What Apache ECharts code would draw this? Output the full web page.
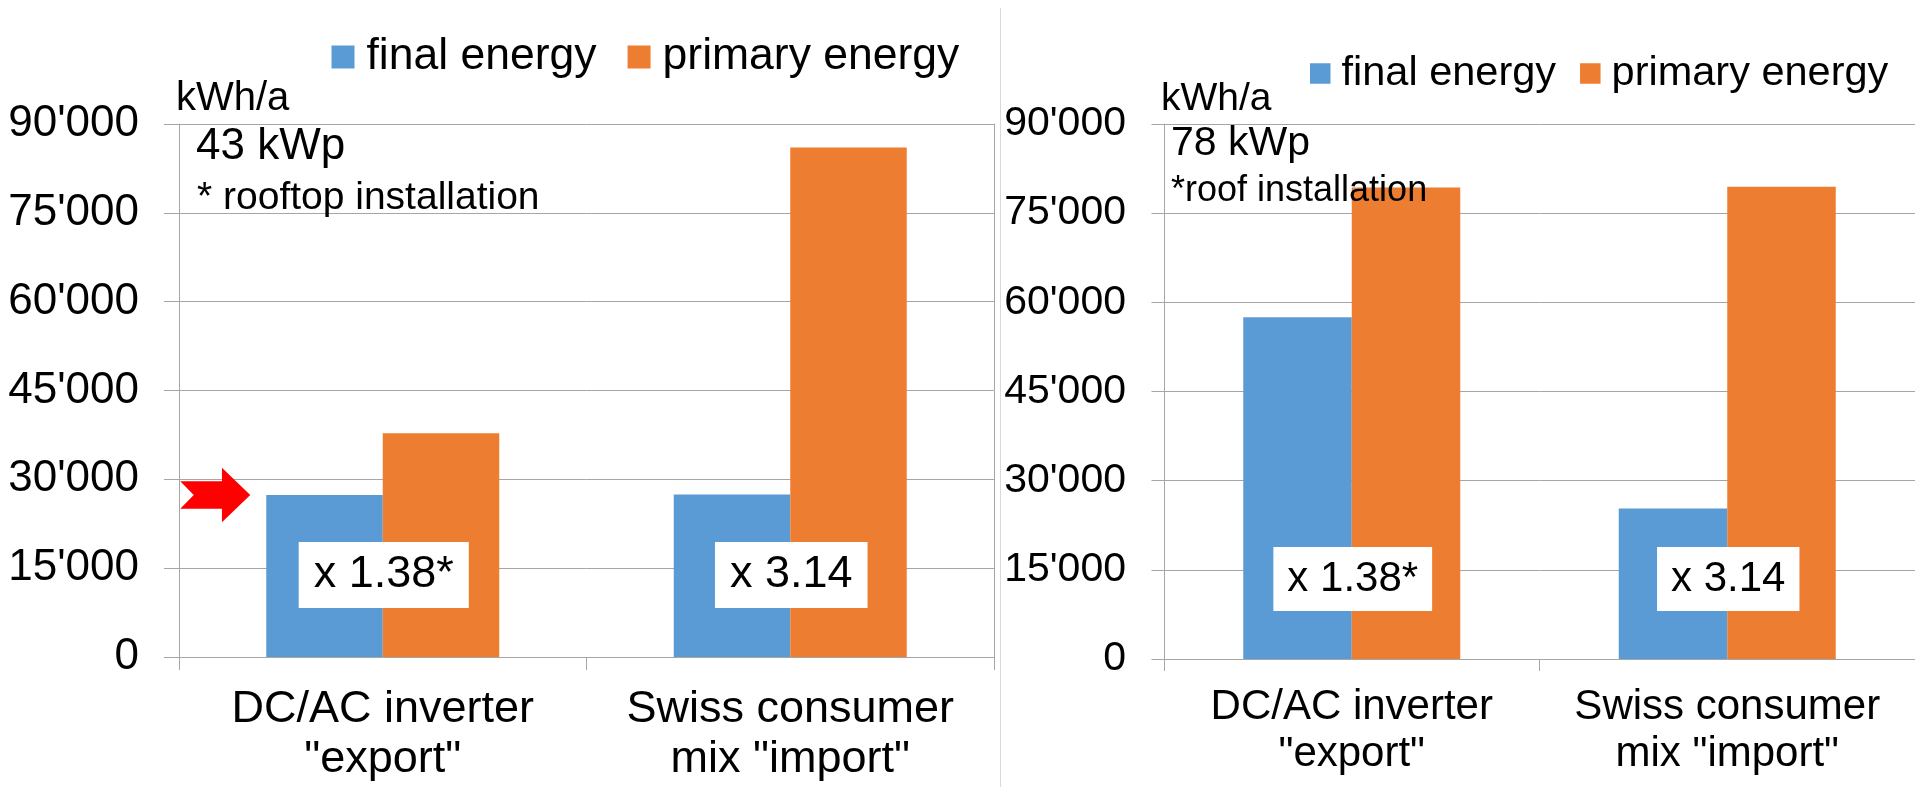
<!DOCTYPE html>
<html>
<head>
<meta charset="utf-8">
<title>Final vs primary energy</title>
<script src="https://cdn.jsdelivr.net/npm/echarts@6/dist/echarts.min.js"></script>
<style>
  html, body { margin: 0; padding: 0; background: #ffffff; }
  #chart { width: 1915px; height: 787px; }
</style>
</head>
<body>
<div id="chart"></div>
<script>
// Categories shared by both panels
const categories = ['DC/AC inverter\n"export"', 'Swiss consumer\nmix "import"'];
const seriesNames = ['final energy', 'primary energy'];

// Left panel: 43 kWp rooftop installation (kWh/a)
const leftFinal = [27350, 27450];
const leftPrimary = [37800, 86050];
const leftFactors = ['x 1.38*', 'x 3.14'];
const leftNotes = ['43 kWp', '* rooftop installation'];

// Right panel: 78 kWp roof installation (kWh/a)
const rightFinal = [57500, 25300];
const rightPrimary = [79300, 79450];
const rightFactors = ['x 1.38*', 'x 3.14'];
const rightNotes = ['78 kWp', '*roof installation'];

// Value axis
const yMin = 0;
const yMax = 90000;
const yStep = 15000;
const unitLabel = 'kWh/a';

const FONT = '"Liberation Sans", Arial, Helvetica, sans-serif';
const BLUE = '#5B9BD5';
const ORANGE = '#ED7D31';
const GRID_GRAY = '#a6a6a6';

function fmtThousands(v) {
  return String(v).replace(/\B(?=(\d{3})+(?!\d))/g, "'");
}

const chart = echarts.init(document.getElementById('chart'), null, { renderer: 'canvas' });

function xAxisFor(gridIndex, fontSize, lineHeight, margin, tickLen) {
  return {
    type: 'category',
    gridIndex: gridIndex,
    data: categories,
    axisLine: { show: true, lineStyle: { color: GRID_GRAY, width: 1 } },
    axisTick: { show: true, length: tickLen, lineStyle: { color: GRID_GRAY } },
    axisLabel: {
      interval: 0,
      margin: margin,
      color: '#000',
      fontFamily: FONT,
      fontSize: fontSize,
      lineHeight: lineHeight
    },
    splitLine: { show: false }
  };
}

function yAxisFor(gridIndex, fontSize, margin, tickLen) {
  return {
    type: 'value',
    gridIndex: gridIndex,
    min: yMin,
    max: yMax,
    interval: yStep,
    axisLine: { show: true, lineStyle: { color: GRID_GRAY, width: 1 } },
    axisTick: { show: true, length: tickLen, lineStyle: { color: GRID_GRAY } },
    axisLabel: {
      margin: margin,
      color: '#000',
      fontFamily: FONT,
      fontSize: fontSize,
      formatter: fmtThousands
    },
    splitLine: { show: true, lineStyle: { color: GRID_GRAY, width: 1 } }
  };
}

function legendFor(left, top, size, fontSize, gap, textPad) {
  return {
    left: left,
    top: top,
    padding: 0,
    orient: 'horizontal',
    icon: 'rect',
    itemWidth: size,
    itemHeight: size,
    itemGap: gap,
    selectedMode: false,
    data: seriesNames,
    textStyle: {
      color: '#000',
      fontFamily: FONT,
      fontSize: fontSize,
      padding: [0, 0, 0, textPad]
    }
  };
}

const option = {
  animation: false,
  backgroundColor: '#ffffff',
  legend: [
    legendFor(331.5, 34.5, 23, 44.5, 31, 7),
    legendFor(1310, 52.5, 20.5, 41.5, 24, 6)
  ],
  grid: [
    { left: 179, right: 921, top: 124, bottom: 130, containLabel: false },
    { left: 1164, right: -7, top: 124, bottom: 128, containLabel: false }
  ],
  xAxis: [
    xAxisFor(0, 45, 50, 28, 13),
    xAxisFor(1, 42, 47, 25, 12)
  ],
  yAxis: [
    yAxisFor(0, 44, 40, 15),
    yAxisFor(1, 41, 38, 12.5),
    {
      // right-hand frame of the left plot area
      type: 'value', gridIndex: 0, position: 'right',
      min: yMin, max: yMax, interval: yStep,
      axisLine: { show: true, lineStyle: { color: GRID_GRAY, width: 1 } },
      axisTick: { show: false }, axisLabel: { show: false }, splitLine: { show: false }
    }
  ],
  series: [
    {
      name: seriesNames[0], type: 'bar', xAxisIndex: 0, yAxisIndex: 0,
      data: leftFinal, barWidth: 116.5, barGap: '0%',
      itemStyle: { color: BLUE }
    },
    {
      name: seriesNames[1], type: 'bar', xAxisIndex: 0, yAxisIndex: 0,
      data: leftPrimary, barWidth: 116.5, barGap: '0%',
      itemStyle: { color: ORANGE }
    },
    {
      name: seriesNames[0], type: 'bar', xAxisIndex: 1, yAxisIndex: 1,
      data: rightFinal, barWidth: 108.5, barGap: '0%',
      itemStyle: { color: BLUE }
    },
    {
      name: seriesNames[1], type: 'bar', xAxisIndex: 1, yAxisIndex: 1,
      data: rightPrimary, barWidth: 108.5, barGap: '0%',
      itemStyle: { color: ORANGE }
    }
  ]
};

chart.setOption(option);

// Annotations placed from the axes' own scales
function px(gridIdx, cat, val) {
  return chart.convertToPixel({ xAxisIndex: gridIdx, yAxisIndex: gridIdx }, [cat, val]);
}

function textEl(x, y, text, size, align) {
  return {
    type: 'text', x: x, y: y, z: 10,
    style: {
      text: text, fill: '#000', fontFamily: FONT, fontSize: size,
      align: align || 'left', verticalAlign: 'middle'
    }
  };
}

function factorBox(gridIdx, cat, text, size, lineH, padX, lift) {
  const base = px(gridIdx, cat, 0);
  return {
    type: 'text', x: base[0] + 1, y: base[1] - lift, z: 20,
    style: {
      text: text, fill: '#000', fontFamily: FONT, fontSize: size,
      lineHeight: lineH,
      align: 'center', verticalAlign: 'middle',
      backgroundColor: '#ffffff', padding: [10, padX]
    }
  };
}

const graphics = [];

// panel separator
graphics.push({
  type: 'line', z: 5,
  shape: { x1: 1000.5, y1: 8, x2: 1000.5, y2: 787 },
  style: { stroke: '#d9d9d9', lineWidth: 1 }
});

// unit and installation notes
const topLeft = px(0, 0, yMax);
const topRight = px(1, 0, yMax);
const leftAxisX = 179;
const rightAxisX = 1164;
graphics.push(textEl(leftAxisX - 3, topLeft[1] - 25, unitLabel, 40));
graphics.push(textEl(leftAxisX + 17, topLeft[1] + 22.5, leftNotes[0], 44));
graphics.push(textEl(leftAxisX + 18, topLeft[1] + 74, leftNotes[1], 39));
graphics.push(textEl(rightAxisX - 3, topRight[1] - 25, unitLabel, 39));
graphics.push(textEl(rightAxisX + 7, topRight[1] + 20, rightNotes[0], 41));
graphics.push(textEl(rightAxisX + 7, topRight[1] + 67, rightNotes[1], 36));

// multiplication factors between each bar pair
leftFactors.forEach(function (t, i) {
  graphics.push(factorBox(0, i, t, 45, 46, 15, 82));
});
rightFactors.forEach(function (t, i) {
  graphics.push(factorBox(1, i, t, 42, 44, 14, 80));
});

// red arrow pointing at the top of the first final-energy bar
const tipRef = px(0, 0, leftFinal[0]);
const tipX = tipRef[0] - 116.5 - 16;
const tipY = tipRef[1];
const arrowPts = [
  [-70, -13.8], [-28.3, -13.8], [-28.3, -27.2], [0, 0],
  [-28.3, 27.2], [-28.3, 13.8], [-70, 13.8], [-56.5, 0]
].map(function (p) { return [tipX + p[0], tipY + p[1]]; });
graphics.push({
  type: 'polygon', z: 15,
  shape: { points: arrowPts },
  style: { fill: '#ff0000', stroke: null }
});

chart.setOption({ graphic: graphics });
</script>
</body>
</html>
